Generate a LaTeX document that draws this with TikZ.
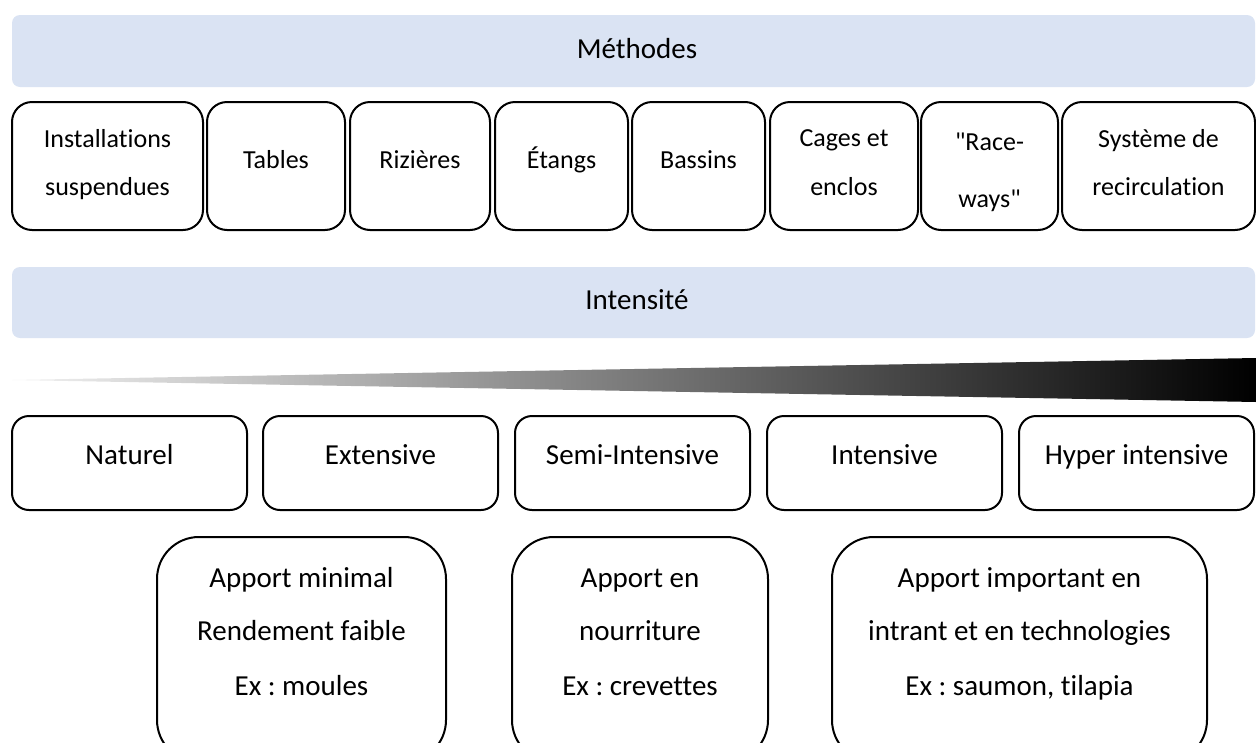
\documentclass[tikz,border=0pt]{standalone}
\usepackage{fontspec}
\setmainfont{Carlito}[Ligatures={TeXOff,NoCommon,NoContextual}, RawFeature={-liga;-clig;-calt;-dlig}]
\definecolor{bannerblue}{HTML}{DAE3F3}
\frenchspacing
\begin{document}
\begin{tikzpicture}[x=1pt,y=-1pt,
  bannerbox/.style={fill=bannerblue, draw=none, rounded corners=8pt, inner sep=0pt, outer sep=0pt},
  mbox/.style={draw=black, line width=2pt, rounded corners=20pt, inner sep=0pt, outer sep=0pt, minimum height=128pt},
  ibox/.style={draw=black, line width=2pt, rounded corners=17pt, inner sep=0pt, outer sep=0pt, minimum height=94pt, minimum width=235pt},
  bbox/.style={draw=black, line width=2pt, rounded corners=42pt, inner sep=0pt, outer sep=0pt, minimum height=225pt},
  mtxt/.style={font=\fontsize{26}{31}\selectfont\frenchspacing, anchor=base, inner sep=0pt},
  btxt/.style={font=\fontsize{29}{35}\selectfont\frenchspacing, anchor=base, inner sep=0pt}]
\useasboundingbox (0,0) rectangle (1256,742);
\begin{scope}
\clip (0,0) rectangle (1256,742);
% banners
\node[bannerbox, minimum width=1243pt, minimum height=72pt] (ban1) at (633.5,51) {};
\node[btxt] (ban1t) at (637,58) {Méthodes};
\node[bannerbox, minimum width=1243pt, minimum height=71pt] (ban2) at (633.5,302.5) {};
\node[btxt] (ban2t) at (637,309) {Intensité};
% methods boxes
\foreach \n/\a/\b in {m1/12/203, m2/207/345, m3/350/490, m4/495/628, m5/632/765, m6/770/918, m7/921/1058, m8/1062/1255}
  \node[mbox, minimum width={\b-\a}] (\n) at ({(\a+\b)/2},166) {};
\node[mtxt] (m1a) at (m1.center |- 0,147) {Installations};
\node[mtxt] (m1b) at (m1.center |- 0,195) {suspendues};
\node[mtxt] (m2a) at (m2.center |- 0,168) {Tables};
\node[mtxt] (m3a) at (m3.center |- 0,168) {Rizières};
\node[mtxt] (m4a) at (m4.center |- 0,168) {Étangs};
\node[mtxt] (m5a) at (m5.center |- 0,168) {Bassins};
\node[mtxt] (m6a) at (m6.center |- 0,146) {Cages et};
\node[mtxt] (m6b) at (m6.center |- 0,195) {enclos};
\node[mtxt] (m7a) at (m7.center |- 0,150) {"Race-};
\node[mtxt] (m7b) at (m7.center |- 0,207) {ways"};
\node[mtxt] (m8a) at (m8.center |- 0,147) {Système de};
\node[mtxt] (m8b) at (m8.center |- 0,195) {recirculation};
% intensity wedge
\shade[left color=black!5, middle color=black!62, right color=black] (12,380) -- (1256,358) -- (1256,402) -- cycle;
% intensity boxes
\foreach \n/\a/\t in {i1/12/Naturel, i2/263/Extensive, i3/515/Semi-Intensive, i4/767/Intensive, i5/1019/Hyper intensive}{
  \node[ibox] (\n) at ({\a+117.5},463) {};
  \node[btxt] (\n t) at ({\a+117.5},464) {\t};
}
% bottom boxes
\node[bbox, minimum width=289pt] (b1) at (301.5,649.5) {};
\node[bbox, minimum width=256pt] (b2) at (640,649.5) {};
\node[bbox, minimum width=375pt] (b3) at (1019.5,649.5) {};
\node[btxt] (b1a) at (b1.center |- 0,587) {Apport minimal};
\node[btxt] (b1b) at (b1.center |- 0,640) {Rendement faible};
\node[btxt] (b1c) at (b1.center |- 0,695) {Ex : moules};
\node[btxt] (b2a) at (b2.center |- 0,587) {Apport en};
\node[btxt] (b2b) at (b2.center |- 0,640) {nourriture};
\node[btxt] (b2c) at (b2.center |- 0,695) {Ex : crevettes};
\node[btxt] (b3a) at (b3.center |- 0,587) {Apport important en};
\node[btxt] (b3b) at (b3.center |- 0,640) {intrant et en technologies};
\node[btxt] (b3c) at (b3.center |- 0,695) {Ex : saumon, tilapia};
\end{scope}
\end{tikzpicture}
\end{document}
